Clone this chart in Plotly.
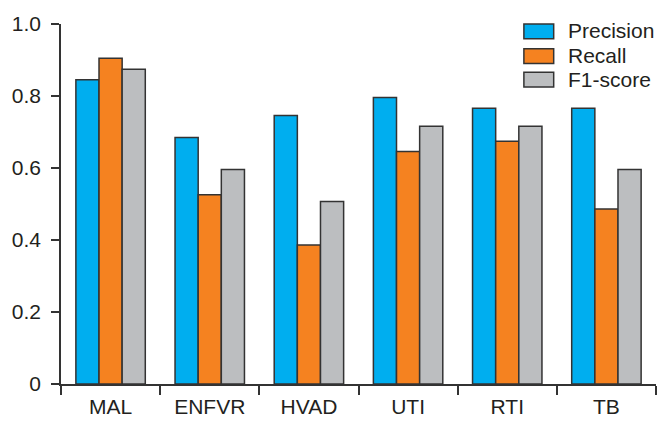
import plotly.graph_objects as go

categories = ["MAL", "ENFVR", "HVAD", "UTI", "RTI", "TB"]
precision = [0.845, 0.685, 0.746, 0.796, 0.766, 0.766]
recall = [0.905, 0.526, 0.386, 0.646, 0.674, 0.486]
f1_score = [0.874, 0.596, 0.507, 0.716, 0.716, 0.596]
y_ticks = [0, 0.2, 0.4, 0.6, 0.8, 1.0]
y_tick_labels = ["0", "0.2", "0.4", "0.6", "0.8", "1.0"]

series = [
    ("Precision", precision, "#00AEEF"),
    ("Recall", recall, "#F58220"),
    ("F1-score", f1_score, "#BCBEC0"),
]

W, H = 669, 430
ml, mr, mt, mb = 57, 13, 20, 45
edge = "#333333"
font = "Liberation Sans, Arial, sans-serif"

fig = go.Figure()
for name, vals, col in series:
    fig.add_trace(go.Bar(
        x=categories, y=vals, name=name,
        marker=dict(color=col, line=dict(color=edge, width=1.5)),
        showlegend=False,
    ))

# custom legend (boxes + labels) in pixel-based paper coords
def px_x(x):
    return (x - ml) / (W - ml - mr)

def px_y(y):
    return 1 - (y - mt) / (H - mt - mb)

box_x0, box_x1 = 523, 553
tops = [20, 45, 69]
for (name, vals, col), top in zip(series, tops):
    fig.add_shape(type="rect", xref="paper", yref="paper",
                  x0=px_x(box_x0), x1=px_x(box_x1),
                  y0=px_y(top + 15), y1=px_y(top),
                  fillcolor=col, line=dict(color=edge, width=1.5))
    fig.add_annotation(xref="paper", yref="paper",
                       x=px_x(565), y=px_y(top + 7),
                       xanchor="left", yanchor="middle",
                       text=name, showarrow=False,
                       font=dict(family=font, size=21, color="#231F20"))

# small overhang of the x-axis line left of the y axis
fig.add_shape(type="line", xref="paper", yref="paper",
              x0=px_x(48), x1=0, y0=0, y1=0,
              line=dict(color=edge, width=1.5))

fig.update_layout(
    width=W, height=H,
    margin=dict(l=ml, r=mr, t=mt, b=mb),
    paper_bgcolor="white", plot_bgcolor="white",
    barmode="group", bargap=0.3, bargroupgap=0,
    font=dict(family=font, size=21, color="#231F20"),
)
fig.update_xaxes(
    range=[-0.5, 5.5], showline=True, linecolor=edge, linewidth=1.5,
    ticks="outside", tickson="boundaries", ticklen=9, tickcolor=edge, tickwidth=1.5,
    showgrid=False, tickfont=dict(size=21), ticklabelstandoff=3,
)
fig.update_yaxes(
    range=[0, 1.0], tickvals=y_ticks, ticktext=y_tick_labels,
    showline=True, linecolor=edge, linewidth=1.5,
    ticks="outside", ticklen=8, tickcolor=edge, tickwidth=1.5,
    showgrid=False, zeroline=False, tickfont=dict(size=21), ticklabelstandoff=6,
)

fig.write_html("out.html", config={"displayModeBar": False},
               post_script="document.body.style.margin='0';document.body.style.overflow='hidden';")
